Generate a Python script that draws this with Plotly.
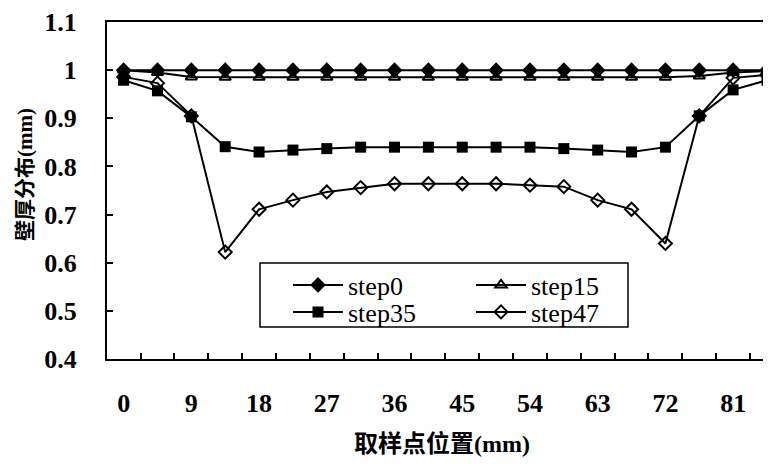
import plotly.graph_objects as go

positions = [0, 4.5, 9, 13.5, 18, 22.5, 27, 31.5, 36, 40.5, 45, 49.5, 54, 58.5, 63, 67.5, 72, 76.5, 81, 85.5]
tick_labels = [0, 9, 18, 27, 36, 45, 54, 63, 72, 81]
step0 = [1.0, 1.0, 1.0, 1.0, 1.0, 1.0, 1.0, 1.0, 1.0, 1.0, 1.0, 1.0, 1.0, 1.0, 1.0, 1.0, 1.0, 1.0, 1.0, 1.0]
step15 = [1.0, 0.995, 0.986, 0.985, 0.985, 0.985, 0.985, 0.985, 0.985, 0.985, 0.985, 0.985, 0.985, 0.985, 0.985, 0.985, 0.985, 0.988, 0.995, 0.998]
step35 = [0.979, 0.957, 0.903, 0.841, 0.830, 0.834, 0.837, 0.840, 0.840, 0.840, 0.840, 0.840, 0.840, 0.837, 0.834, 0.830, 0.840, 0.905, 0.959, 0.979]
step47 = [0.986, 0.973, 0.905, 0.622, 0.711, 0.730, 0.747, 0.756, 0.764, 0.764, 0.764, 0.764, 0.761, 0.758, 0.730, 0.711, 0.640, 0.905, 0.984, 0.990]

serif = "Liberation Serif, Times New Roman, serif"
cjk = "Liberation Serif, Noto Sans CJK SC, serif"

# page offset (body margin 8px) accounted for in margins
L, R, T, B = 99, 2, 14, 113
PW = 771 - L - R
PH = 464 - T - B


def px(X):
    return (X - 107) / PW


def py(Y):
    return (359 - Y) / PH


fig = go.Figure()
fig.add_trace(go.Scatter(x=positions, y=step0, name="step0", mode="lines+markers",
                         line=dict(color="black", width=2),
                         marker=dict(symbol="diamond", size=12, color="black"), legend="legend"))
fig.add_trace(go.Scatter(x=positions, y=step15, name="step15", mode="lines+markers",
                         line=dict(color="black", width=2),
                         marker=dict(symbol="triangle-up-open", size=10, color="black", line=dict(width=2)), legend="legend"))
fig.add_trace(go.Scatter(x=positions, y=step35, name="step35", mode="lines+markers",
                         line=dict(color="black", width=2),
                         marker=dict(symbol="square", size=11, color="black"), legend="legend2"))
fig.add_trace(go.Scatter(x=positions, y=step47, name="step47", mode="lines+markers",
                         line=dict(color="black", width=2),
                         marker=dict(symbol="diamond-open", size=10, color="black", line=dict(width=2)), legend="legend2"))

legend_common = dict(orientation="h", xref="paper", yref="paper", xanchor="left", yanchor="middle",
                     font=dict(family=serif, size=26, color="black"), bgcolor="rgba(0,0,0,0)",
                     itemwidth=50, entrywidth=118, tracegroupgap=0, itemclick=False)

fig.update_layout(
    width=771, height=464,
    margin=dict(l=L, r=R, t=T, b=B, autoexpand=False),
    paper_bgcolor="white", plot_bgcolor="white",
    showlegend=True,
    legend=dict(x=px(288), y=py(285), **legend_common),
    legend2=dict(x=px(288), y=py(312), **legend_common),
    xaxis=dict(range=[-2.21, 86.83], tickmode="array", tickvals=tick_labels,
               ticktext=[str(t) for t in tick_labels], ticks="", showgrid=False, zeroline=False,
               showline=True, linecolor="black", linewidth=2, mirror=True, automargin=False,
               tickfont=dict(family=serif, size=26, color="black", weight="bold"),
               ticklabelstandoff=20,
               minor=dict(tickvals=[p + 2.25 for p in positions], ticks="inside", ticklen=6,
                          tickcolor="black", tickwidth=1.5, showgrid=False),
               title=dict(text="取样点位置(mm)", font=dict(family=cjk, size=24, color="black", weight="bold"),
                          standoff=18)),
    yaxis=dict(range=[0.4, 1.1], tickmode="array", tickvals=[0.4, 0.5, 0.6, 0.7, 0.8, 0.9, 1.0, 1.1],
               ticktext=["0.4", "0.5", "0.6", "0.7", "0.8", "0.9", "1", "1.1"],
               ticks="inside", ticklen=6, tickcolor="black", tickwidth=1.5, showgrid=False, zeroline=False,
               showline=True, linecolor="black", linewidth=2, mirror=False, automargin=False,
               tickfont=dict(family=serif, size=26, color="black", weight="bold"),
               ticklabelstandoff=23),
    annotations=[dict(text="壁厚分布(mm)", xref="paper", yref="paper", x=px(25), y=py(175),
                      xanchor="center", yanchor="middle", textangle=-90, showarrow=False,
                      font=dict(family=cjk, size=21, color="black", weight="bold"))],
    shapes=[dict(type="rect", xref="paper", yref="paper",
                 x0=px(260), x1=px(628), y0=py(327), y1=py(263),
                 line=dict(color="black", width=1.5), fillcolor="white", layer="above")],
)
fig.write_html("out.html")
